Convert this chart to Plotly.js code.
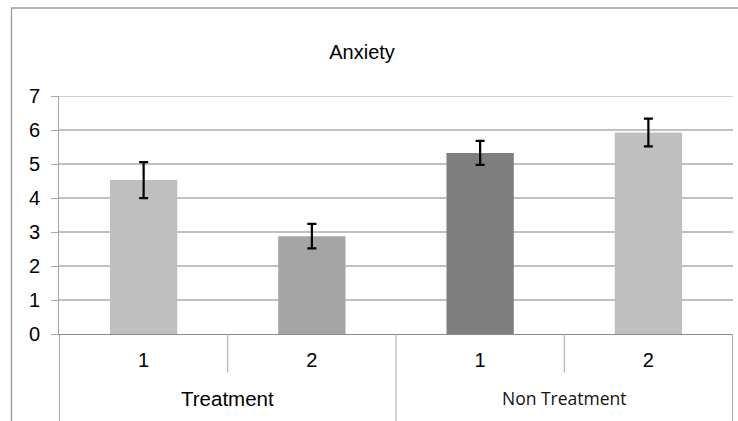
<!DOCTYPE html>
<html>
<head>
<meta charset="utf-8">
<script src="https://cdn.plot.ly/plotly-3.0.1.min.js"></script>
<style>
  html, body { margin: 0; padding: 0; background: #fff; }
  #chart { width: 738px; height: 421px; }
</style>
</head>
<body>
<div id="chart"></div>
<script>
// ---- data ----
const groups = ["Treatment", "Treatment", "Non Treatment", "Non Treatment"];
const levels = ["1", "2", "1", "2"];
const anxietyMeans = [4.53, 2.88, 5.33, 5.93];
const anxietyErrors = [0.53, 0.36, 0.355, 0.41];
const yTickVals = [0, 1, 2, 3, 4, 5, 6, 7];
const chartTitle = "Anxiety";

// ---- styles ----
const barColors = ["#BFBFBF", "#A5A5A5", "#7F7F7F", "#BFBFBF"];
const groupFonts = {
  "Treatment": {family: "Liberation Sans, Arial, sans-serif", size: 20.5, color: "#000"},
  "Non Treatment": {family: "Open Sans, Noto Sans, sans-serif", size: 17.5, color: "#111"}
};

const keys = groups.map((g, i) => g + " " + levels[i]);
const yMax = yTickVals[yTickVals.length - 1];

const trace = {
  type: "bar",
  x: keys,
  y: anxietyMeans,
  marker: {color: barColors, line: {width: 0}},
  error_y: {type: "data", array: anxietyErrors, visible: true, color: "#000", thickness: 2.2, width: 4.5},
  hoverinfo: "skip"
};

// group labels & dividers derived from the category arrays
const uniqueGroups = [...new Set(groups)];
const annotations = [];
const shapes = [];
const lineColor = "#A6A6A6";
uniqueGroups.forEach(g => {
  const idx = groups.map((v, i) => v === g ? i : -1).filter(i => i >= 0);
  const first = idx[0], last = idx[idx.length - 1];
  annotations.push({
    text: g, x: (first + last) / 2, xref: "x", y: -0.27, yref: "paper",
    xanchor: "center", yanchor: "middle", showarrow: false,
    font: groupFonts[g]
  });
  shapes.push({type: "line", xref: "x", yref: "paper", x0: first - 0.5, x1: first - 0.5, y0: 0, y1: -0.4,
    line: {color: lineColor, width: 1}});
  for (let k = first; k < last; k++) {
    shapes.push({type: "line", xref: "x", yref: "paper", x0: k + 0.5, x1: k + 0.5, y0: 0, y1: -0.162,
      line: {color: lineColor, width: 1}});
  }
  if (g === uniqueGroups[uniqueGroups.length - 1]) {
    shapes.push({type: "line", xref: "x", yref: "paper", x0: last + 0.5, x1: last + 0.5, y0: 0, y1: -0.4,
      line: {color: lineColor, width: 1}});
  }
});

// top gridline at the axis maximum
shapes.push({type: "line", xref: "paper", yref: "y", x0: 0, x1: 1, y0: yMax, y1: yMax,
  layer: "below", line: {color: "#C0C0C0", width: 1.3}});

// outer chart border (left & top visible)
shapes.push({type: "rect", xref: "paper", yref: "paper", x0: -0.0705, x1: 1.2, y0: -0.6, y1: 1.3697,
  line: {color: "#9A9A9A", width: 1.3}, fillcolor: "rgba(0,0,0,0)"});

const layout = {
  width: 738, height: 421,
  margin: {l: 59, r: 5, t: 96, b: 87, pad: 0},
  paper_bgcolor: "#fff", plot_bgcolor: "#fff",
  showlegend: false,
  bargap: 0.6,
  title: {
    text: chartTitle, x: 0.4496, xref: "paper", xanchor: "center",
    y: 1 - 52 / 421, yref: "container", yanchor: "middle",
    font: {family: "Liberation Sans, Arial, sans-serif", size: 20, color: "#000"}
  },
  xaxis: {
    type: "category",
    tickmode: "array", tickvals: keys, ticktext: levels,
    ticks: "", showgrid: false, zeroline: false,
    showline: true, linecolor: "#8A8A8A", linewidth: 1.2,
    tickfont: {family: "Liberation Sans, Arial, sans-serif", size: 20, color: "#000"},
    ticklabelstandoff: 8,
    fixedrange: true
  },
  yaxis: {
    range: [0, yMax + 0.004], tickmode: "array", tickvals: yTickVals,
    showgrid: true, gridcolor: "#C0C0C0", gridwidth: 1.3,
    zeroline: false, showline: true, linecolor: "#A6A6A6", linewidth: 1,
    ticks: "outside", ticklen: 7, tickcolor: "#A6A6A6", tickwidth: 1,
    tickfont: {family: "Liberation Sans, Arial, sans-serif", size: 20, color: "#000"},
    ticklabelstandoff: 7,
    fixedrange: true
  },
  annotations: annotations,
  shapes: shapes
};

Plotly.newPlot("chart", [trace], layout, {displayModeBar: false, staticPlot: true});
</script>
</body>
</html>
